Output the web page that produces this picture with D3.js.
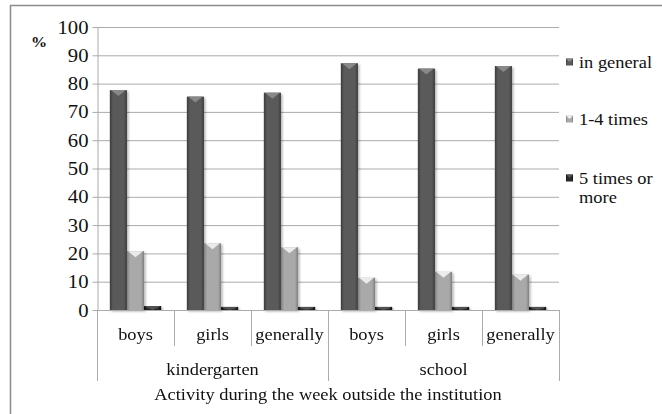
<!DOCTYPE html>
<html>
<head>
<meta charset="utf-8">
<script src="https://cdn.jsdelivr.net/npm/d3@7/dist/d3.min.js"></script>
<style>
  html, body { margin: 0; padding: 0; background: #fff; }
  svg { display: block; }
  svg text { font-family: "Liberation Serif", serif !important; fill: #111; }
</style>
</head>
<body>
<svg id="chart" width="662" height="414"></svg>
<script>
// Activity during the week outside the institution, % of children
const groups = ["kindergarten", "school"];
const subgroups = ["boys", "girls", "generally"];
const seriesNames = ["in general", "1-4 times", "5 times or more"];
const inGeneral = [77.7, 75.4, 76.8, 87.2, 85.3, 86.2];
const oneToFour = [20.8, 23.6, 22.2, 11.4, 13.5, 12.5];
const fiveOrMore = [1.4, 1.1, 1.1, 1.1, 1.1, 1.1];
const yTicks = [0, 10, 20, 30, 40, 50, 60, 70, 80, 90, 100];
const axisTitle = "Activity during the week outside the institution";

const seriesValues = [inGeneral, oneToFour, fiveOrMore];
const categories = [];
groups.forEach(g => subgroups.forEach(s => categories.push(g + "|" + s)));

const FONT = "'Liberation Serif', serif";
const WIDEN = 1.15;   // labels are set slightly wide

// place a text at (x, y) with a horizontal widening
function place(sel, px, py) {
  sel.each(function (d, i) {
    const tx = typeof px === "function" ? px(d, i) : px;
    const ty = typeof py === "function" ? py(d, i) : py;
    d3.select(this).attr("x", 0).attr("y", 0)
      .attr("transform", `translate(${tx},${ty}) scale(${WIDEN},1)`)
      .style("font-family", FONT);
  });
  return sel;
}

const svg = d3.select("#chart");
const plot = { left: 97, right: 559, top: 27, bottom: 310 };

// frame around the chart area
svg.append("rect")
  .attr("x", 10.5).attr("y", 5.5).attr("width", 700).attr("height", 500)
  .attr("fill", "none").attr("stroke", "#8c8c8c").attr("stroke-width", 1.5);

const x = d3.scaleBand().domain(categories).range([plot.left, plot.right]);
// bars fill 3 of 4.5 bar-widths of each category (gap width 150%)
const inner = d3.scaleBand().domain(seriesNames)
  .range([0, x.bandwidth()]).paddingInner(0).paddingOuter(0.75);
const y = d3.scaleLinear().domain([0, 100]).range([plot.bottom, plot.top]);

// bar palettes: [edge, centre, top highlight]
const palettes = [
  ["#3b3b3b", "#5a5a5a", "#8d8d8d"],
  ["#7e7e7e", "#a9a9a9", "#f2f2f2"],
  ["#0e0e0e", "#2a2a2a", "#555555"]
];
const defs = svg.append("defs");
palettes.forEach((p, i) => {
  const g = defs.append("linearGradient").attr("id", "bar" + i)
    .attr("x1", "0").attr("x2", "1").attr("y1", "0").attr("y2", "0");
  g.append("stop").attr("offset", "0%").attr("stop-color", p[0]);
  g.append("stop").attr("offset", "18%").attr("stop-color", p[1]);
  g.append("stop").attr("offset", "82%").attr("stop-color", p[1]);
  g.append("stop").attr("offset", "100%").attr("stop-color", p[0]);
});
const shadow = defs.append("filter").attr("id", "shadow")
  .attr("x", "-30%").attr("y", "-10%").attr("width", "160%").attr("height", "130%");
shadow.append("feDropShadow").attr("dx", 1.5).attr("dy", 1.5).attr("stdDeviation", 1.2)
  .attr("flood-color", "#000").attr("flood-opacity", 0.3);

// horizontal gridlines
svg.append("g").selectAll("line").data(yTicks.slice(1)).join("line")
  .attr("x1", plot.left).attr("x2", plot.right)
  .attr("y1", d => y(d) + 0.5).attr("y2", d => y(d) + 0.5)
  .attr("stroke", "#ababab").attr("stroke-width", 1);

// y axis with short outside ticks
const yAxis = svg.append("g").attr("transform", `translate(${plot.left + 0.5},0)`)
  .call(d3.axisLeft(y).tickValues(yTicks).tickSize(5).tickSizeOuter(0).tickPadding(4));
yAxis.attr("font-family", null);
yAxis.select(".domain").attr("stroke", "#ababab");
yAxis.selectAll(".tick line").attr("stroke", "#ababab");
yAxis.selectAll(".tick text")
  .attr("dy", null).attr("dominant-baseline", "central")
  .style("font-size", "18px")
  .each(function () {
    d3.select(this).attr("x", 0).attr("transform", `translate(-9,0) scale(${WIDEN},1)`)
      .style("font-family", FONT);
  });

place(svg.append("text").style("font-size", "14px").style("font-weight", "bold").text("%"), 31, 47);

// bars
const barLayer = svg.append("g");
seriesNames.forEach((name, si) => {
  const gs = barLayer.append("g").attr("filter", "url(#shadow)");
  const bw = inner.bandwidth();
  categories.forEach((c, ci) => {
    const v = seriesValues[si][ci];
    const bx = x(c) + inner(name);
    const by = y(v);
    const bh = y(0) - by;
    gs.append("rect").attr("x", bx).attr("y", by).attr("width", bw).attr("height", bh)
      .attr("fill", `url(#bar${si})`);
    const cap = Math.min(6, bh);
    gs.append("path")
      .attr("d", `M${bx + 1},${by} L${bx + bw - 1},${by} L${bx + bw - 3},${by + 1.5} L${bx + bw / 2},${by + cap} L${bx + 3},${by + 1.5} Z`)
      .attr("fill", palettes[si][2]).attr("opacity", 0.9);
  });
});

// x axis line and category dividers
svg.append("line").attr("x1", plot.left).attr("x2", plot.right)
  .attr("y1", plot.bottom + 0.5).attr("y2", plot.bottom + 0.5)
  .attr("stroke", "#ababab");
const bounds = categories.map(c => x(c)).concat([plot.right]);
svg.append("g").selectAll("line").data(bounds).join("line")
  .attr("x1", d => Math.round(d) + 0.5).attr("x2", d => Math.round(d) + 0.5)
  .attr("y1", plot.bottom)
  .attr("y2", (d, i) => (i % 3 === 0) ? 381 : 346)
  .attr("stroke", "#ababab");

// subgroup labels
place(svg.append("g").selectAll("text").data(categories).join("text")
  .attr("text-anchor", "middle").style("font-size", "16px")
  .text(c => c.split("|")[1]), c => x(c) + x.bandwidth() / 2, 340);

// group labels
place(svg.append("g").selectAll("text").data(groups).join("text")
  .attr("text-anchor", "middle").style("font-size", "16px")
  .text(g => g),
  g => (x(g + "|" + subgroups[0]) + x(g + "|" + subgroups[2]) + x.bandwidth()) / 2, 375);

place(svg.append("text").attr("text-anchor", "middle").style("font-size", "16px")
  .text(axisTitle), (plot.left + plot.right) / 2, 400);

// legend
const legendRows = [
  { y: 62, lines: ["in general"] },
  { y: 119, lines: ["1-4 times"] },
  { y: 178, lines: ["5 times or", "more"] }
];
const legend = svg.append("g");
seriesNames.forEach((name, i) => {
  const r = legendRows[i];
  legend.append("rect").attr("x", 566).attr("y", r.y - 3.5).attr("width", 7).attr("height", 7)
    .attr("fill", `url(#bar${i})`);
  legend.append("path")
    .attr("d", `M566,${r.y - 3.5} L573,${r.y - 3.5} L569.5,${r.y}Z`)
    .attr("fill", palettes[i][2]);
  r.lines.forEach((t, k) => {
    place(legend.append("text").style("font-size", "16px").text(t), 579, r.y + 5.5 + k * 19);
  });
});
</script>
</body>
</html>
